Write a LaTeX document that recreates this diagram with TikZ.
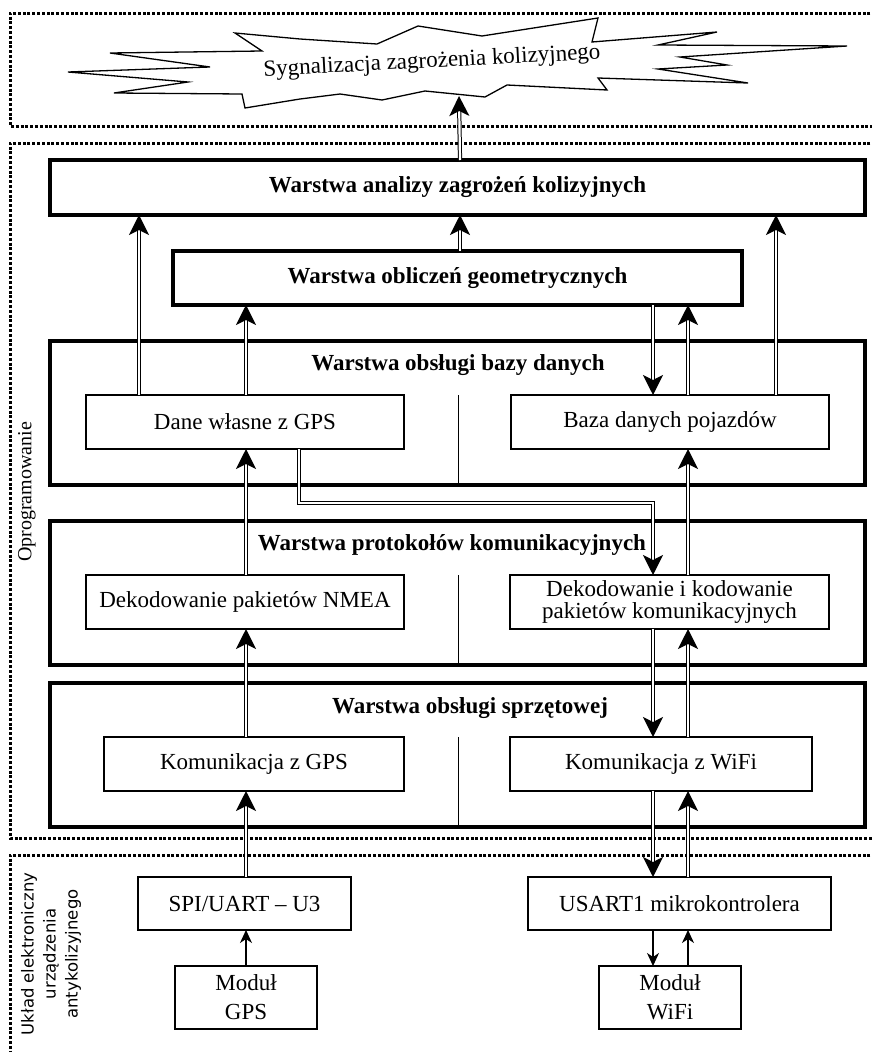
\documentclass[tikz,border=0pt]{standalone}
\usepackage{fontspec}
\setmainfont{Liberation Serif}
\newfontfamily\sidefont{DejaVu Sans}
\usetikzlibrary{arrows.meta,positioning,calc}

\begin{document}
\begin{tikzpicture}[
  x=1pt, y=-1pt,
  font=\fontsize{23}{26}\selectfont,
  layer/.style={draw, line width=3.1pt, inner sep=0pt, outer sep=0pt,
                font=\fontsize{23}{26}\selectfont\bfseries},
  item/.style={draw, line width=1.2pt, inner sep=0pt, outer sep=0pt, align=center},
  title/.style={font=\fontsize{23}{26}\selectfont\bfseries, inner sep=0pt},
  dbl/.style={draw=white, line width=1pt,
              -{Stealth[length=20pt,width=20pt,inset=5pt,color=black,line width=1.4pt]},
              preaction={draw=black, -, double, double distance=2.2pt, shorten >=13pt}},
  sgl/.style={line width=1.6pt, -{Stealth[length=13pt,width=12pt,inset=4pt,line width=1pt]}},
  sep/.style={line width=1pt},
  region/.style={line width=3pt, dash pattern=on 3pt off 1.8pt},
]
\useasboundingbox (0,0) rectangle (871,1052);

% obszary
\draw[region] (880,13) -- (10,13) -- (10,126) -- (880,126);
\draw[region] (880,143) -- (10,143) -- (10,838) -- (880,838);
\draw[region] (880,855) -- (10,855) -- (10,1060);

\node[rotate=90, font=\fontsize{20}{22}\selectfont] (soft) at (27,492) {Oprogramowanie};
\node[rotate=90, align=center, font=\sidefont\fontsize{16.5}{22}\selectfont] (hard) at (51,954)
      {Układ elektroniczny\\ urządzenia\\ antykolizyjnego};

% sygnalizacja
\draw[line width=1.3pt, fill=white] (598,18) -- (592,42) -- (717,32) -- (658,45) -- (847,46)
  -- (680,57) -- (727,65) -- (658,69) -- (748,83) -- (598,78) -- (607,90) -- (507,85)
  -- (485,97) -- (425,91) -- (382,100) -- (340,94) -- (300,99) -- (245,108) -- (242,94)
  -- (114,93) -- (188,82) -- (68,72) -- (210,67) -- (110,53) -- (262,51) -- (235,33)
  -- (300,39) -- (377,44) -- (418,26) -- (482,36) -- cycle;
\node[rotate=3] (syg) at (432,62) {Sygnalizacja zagrożenia kolizyjnego};
\coordinate (sygin) at (459,96);

% warstwy
\node[layer, minimum width=815pt, minimum height=55pt] (lay1) at (457.5,187.5)
      {Warstwa analizy zagrożeń kolizyjnych};
\node[layer, minimum width=569pt, minimum height=54pt] (lay2) at (457.5,278)
      {Warstwa obliczeń geometrycznych};
\node[layer, minimum width=815pt, minimum height=144pt] (lay3) at (457.5,413) {};
\node[layer, minimum width=815pt, minimum height=144pt] (lay4) at (457.5,593) {};
\node[layer, minimum width=815pt, minimum height=144pt] (lay5) at (457.5,755) {};
\node[title] (t3) at (458,365) {Warstwa obsługi bazy danych};
\node[title] (t4) at (452,545) {Warstwa protokołów komunikacyjnych};
\node[title] (t5) at (470,708) {Warstwa obsługi sprzętowej};

% bloki
\node[item, minimum width=318pt, minimum height=54pt] (dane) at (245,422) {Dane własne z GPS};
\node[item, minimum width=318pt, minimum height=54pt] (baza) at (670,422) {Baza danych pojazdów};
\node[item, minimum width=318pt, minimum height=54pt] (nmea) at (245,602) {Dekodowanie pakietów NMEA};
\node[item, minimum width=319pt, minimum height=54pt, font=\fontsize{23}{22}\selectfont] (dik) at (669.5,602)
      {Dekodowanie i kodowanie\\ pakietów komunikacyjnych};
\node[item, minimum width=300pt, minimum height=54pt] (kgps) at (254,764) {Komunikacja z GPS};
\node[item, minimum width=302pt, minimum height=54pt] (kwifi) at (661,764) {Komunikacja z WiFi};
\node[item, minimum width=213pt, minimum height=53pt] (spi) at (244.5,903.5) {SPI/UART -- U3};
\node[item, minimum width=303pt, minimum height=53pt] (usart) at (679.5,903.5) {USART1 mikrokontrolera};
\node[item, minimum width=142pt, minimum height=63pt, font=\fontsize{23}{29}\selectfont] (mgps) at (246,997.5)
      {Moduł\\ GPS};
\node[item, minimum width=142pt, minimum height=63pt, font=\fontsize{23}{29}\selectfont] (mwifi) at (670,997.5)
      {Moduł\\ WiFi};

\coordinate (xA) at (139,0);
\coordinate (xB) at (246,0);
\coordinate (xC) at (299,0);
\coordinate (xM) at (460,0);
\coordinate (xS) at (458,0);
\coordinate (xD) at (653,0);
\coordinate (xE) at (688,0);
\coordinate (xF) at (776,0);
\coordinate (kink) at (653,503);

\draw[sep] (dane.north -| xS) -- (lay3.south -| xS);
\draw[sep] (nmea.north -| xS) -- (lay4.south -| xS);
\draw[sep] (kgps.north -| xS) -- (lay5.south -| xS);

\draw[dbl] (lay1.north -| xM) -- (sygin);
\draw[dbl] (lay2.north -| xM) -- (lay1.south -| xM);
\draw[dbl] (dane.north -| xA) -- (lay1.south -| xA);
\draw[dbl] (dane.north -| xB) -- (lay2.south -| xB);
\draw[dbl] (baza.north -| xF) -- (lay1.south -| xF);
\draw[dbl] (lay2.south -| xD) -- (baza.north -| xD);
\draw[dbl] (baza.north -| xE) -- (lay2.south -| xE);
\draw[dbl] (nmea.north -| xB) -- (dane.south -| xB);
\draw[dbl] (dane.south -| xC) |- (kink) -- (dik.north -| xD);
\draw[dbl] (dik.north -| xE) -- (baza.south -| xE);
\draw[dbl] (kgps.north -| xB) -- (nmea.south -| xB);
\draw[dbl] (dik.south -| xD) -- (kwifi.north -| xD);
\draw[dbl] (kwifi.north -| xE) -- (dik.south -| xE);
\draw[dbl] (spi.north -| xB) -- (kgps.south -| xB);
\draw[dbl] (kwifi.south -| xD) -- (usart.north -| xD);
\draw[dbl] (usart.north -| xE) -- (kwifi.south -| xE);

\draw[sgl] (mgps.north -| xB) -- (spi.south -| xB);
\draw[sgl] (usart.south -| xD) -- (mwifi.north -| xD);
\draw[sgl] (mwifi.north -| xE) -- (usart.south -| xE);
\end{tikzpicture}
\end{document}
